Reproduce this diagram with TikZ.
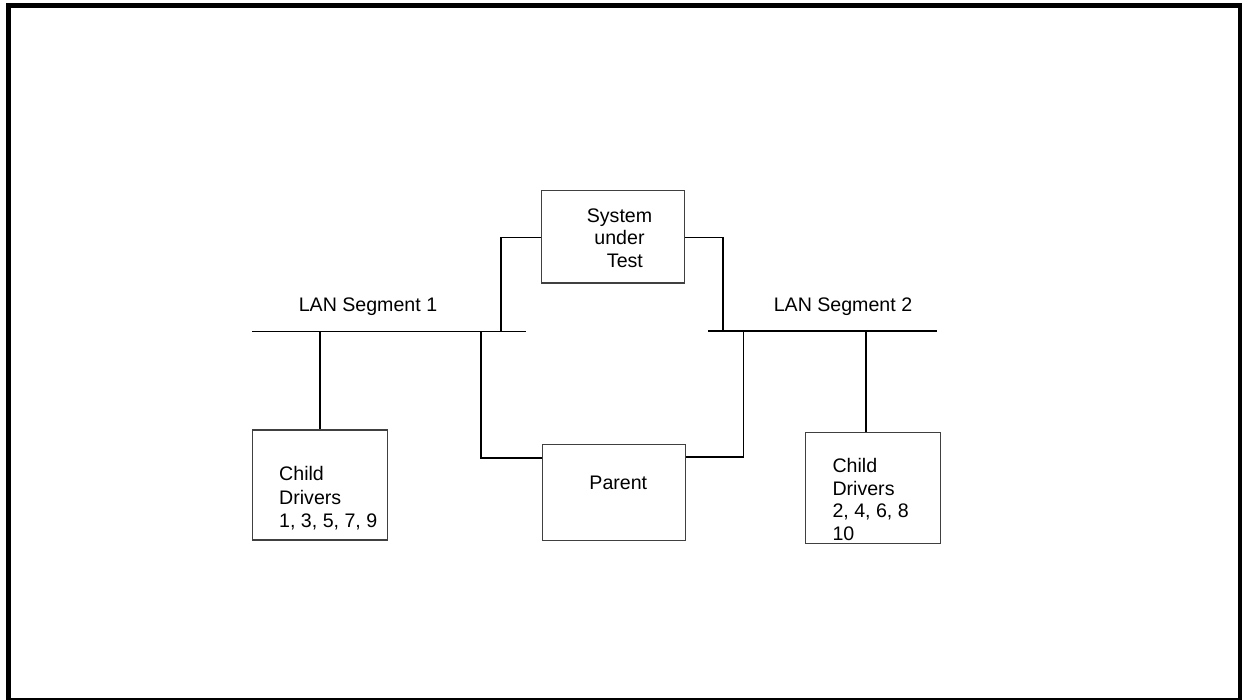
\documentclass[tikz,border=0pt]{standalone}
\usepackage{fontspec}
\setmainfont{Liberation Sans}
\begin{document}
\begin{tikzpicture}[x=1pt,y=-1pt,
  box/.style={draw=black!75,line width=1.1pt,rectangle,inner sep=0pt},
  wire/.style={draw=black,line width=1.6pt},
  lan/.style={draw=black,line width=1.6pt},
  txt/.style={font=\fontsize{19.6}{23.5}\selectfont,inner sep=0pt,align=left},
  ctxt/.style={font=\fontsize{19.6}{22.5}\selectfont,inner sep=0pt,align=center}]
\useasboundingbox (0,0) rectangle (1242,700);
\draw[line width=5.5pt] (8.5,5.5) rectangle (1240.5,700.5);
% boxes
\node[box,minimum width=135pt,minimum height=110pt] (c1) at (320.2,485) {};
\node[box,minimum width=142.3pt,minimum height=92.3pt] (sut) at (612.9,236.9) {};
\node[box,minimum width=143.3pt,minimum height=96pt] (par) at (613.7,492.7) {};
\node[box,minimum width=135.7pt,minimum height=110.6pt] (c2) at (872.9,488) {};
% texts
\node[ctxt] (sutt) at (619.5,238) {System\\under\\\ \ Test};
\node[ctxt] (part) at (618.3,483.3) {Parent};
\node[txt,anchor=west] (c1t) at (279,498.5) {Child\\Drivers\\1, 3, 5, 7, 9};
\node[txt,anchor=west,font=\fontsize{19.6}{22.4}\selectfont] (c2t) at (832.3,499.5) {Child\\Drivers\\2, 4, 6, 8\\10};
\node[ctxt] (l1t) at (368,306.7) {LAN Segment 1};
\node[ctxt] (l2t) at (843,306.4) {LAN Segment 2};
% LAN lines
\coordinate (l1a) at (252,331.5);
\coordinate (l1b) at (525.5,331.5);
\coordinate (l2a) at (708,331);
\coordinate (l2b) at (937,331);
\draw[lan] (l1a) -- (l1b);
\draw[lan] (l2a) -- (l2b);
% taps
\coordinate (t1) at (320.2,331.5);
\coordinate (t2) at (501,331.5);
\coordinate (t3) at (481,331.5);
\coordinate (t4) at (722.7,331);
\coordinate (t5) at (743.3,331);
\coordinate (t6) at (865.7,331);
\draw[wire] (t1) -- (c1.north -| t1);
\draw[wire] (t2) |- (sut.west |- 0,237.7);
\draw[wire] (sut.east |- 0,237.7) -| (t4);
\draw[wire] (t3) |- (par.west |- 0,458);
\draw[wire] (par.east |- 0,457) -| (t5);
\draw[wire] (t6) -- (c2.north -| t6);
\end{tikzpicture}
\end{document}
